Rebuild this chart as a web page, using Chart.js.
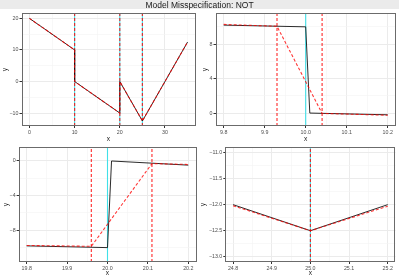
<!DOCTYPE html>
<html>
<head>
<meta charset="utf-8">
<script src="https://cdn.jsdelivr.net/npm/chart.js@4.4.1/dist/chart.umd.min.js"></script>
<style>
  html, body { margin: 0; padding: 0; background: #fff; }
  #wrap { position: relative; width: 399px; height: 279px; overflow: hidden; }
  canvas { position: absolute; }
  #title {
    position: absolute; left: 0; top: 0; width: 399px; height: 9px;
    background: #ebebeb; color: #1a1a1a; text-align: center;
    font: 8.5px "Liberation Sans", Arial, sans-serif; line-height: 10px;
  }
</style>
</head>
<body>
<div id="wrap">
  <canvas id="p1" width="200" height="142" style="left:0;top:0"></canvas>
  <canvas id="p2" width="199" height="142" style="left:200px;top:0"></canvas>
  <canvas id="p3" width="200" height="139" style="left:0;top:140px"></canvas>
  <canvas id="p4" width="199" height="139" style="left:200px;top:140px"></canvas>
  <div id="title">Model Misspecification: NOT</div>
</div>
<script>
// panel 1 — whole signal
const p1TrueX   = [0, 10, 10, 20, 20, 25, 35];
const p1TrueY   = [20, 10, 0, -10, 0, -12.5, 12.5];
const p1FitX    = [0, 10, 10, 20, 20, 25, 35];
const p1FitY    = [20, 10, 0, -10, 0, -12.5, 12.5];
const p1TrueCpt = [10, 20, 25];
const p1EstCpt  = [10, 20, 25];
const p1XLim    = [-1.75, 36.75];
const p1YLim    = [-14.1, 21.6];
const p1XTicks  = [0, 10, 20, 30];
const p1XLabels = ['0', '10', '20', '30'];
const p1XMinor  = [5, 15, 25, 35];
const p1YTicks  = [-10, 0, 10, 20];
const p1YLabels = ['\u221210', '0', '10', '20'];
const p1YMinor  = [-5, 5, 15];

// panel 2 — zoom around x = 10
const p2TrueX   = [9.8, 10.0, 10.01, 10.2];
const p2TrueY   = [10.2, 10.0, 0, -0.2];
const p2FitX    = [9.8, 9.93, 10.04, 10.2];
const p2FitY    = [10.28, 10.07, -0.04, -0.25];
const p2TrueCpt = [10.0];
const p2EstCpt  = [9.93, 10.04];
const p2XLim    = [9.78, 10.22];
const p2YLim    = [-1.5, 11.57];
const p2XTicks  = [9.8, 9.9, 10.0, 10.1, 10.2];
const p2XLabels = ['9.8', '9.9', '10.0', '10.1', '10.2'];
const p2XMinor  = [9.85, 9.95, 10.05, 10.15];
const p2YTicks  = [0, 4, 8];
const p2YLabels = ['0', '4', '8'];
const p2YMinor  = [2, 6, 10];

// panel 3 — zoom around x = 20
const p3TrueX   = [19.8, 20.0, 20.01, 20.2];
const p3TrueY   = [-9.8, -10, 0, -0.48];
const p3FitX    = [19.8, 19.96, 20.11, 20.2];
const p3FitY    = [-9.75, -9.85, -0.3, -0.4];
const p3TrueCpt = [20.0];
const p3EstCpt  = [19.96, 20.11];
const p3XLim    = [19.78, 20.22];
const p3YLim    = [-11.66, 1.58];
const p3XTicks  = [19.8, 19.9, 20.0, 20.1, 20.2];
const p3XLabels = ['19.8', '19.9', '20.0', '20.1', '20.2'];
const p3XMinor  = [19.85, 19.95, 20.05, 20.15];
const p3YTicks  = [-8, -4, 0];
const p3YLabels = ['\u22128', '\u22124', '0'];
const p3YMinor  = [-10, -6, -2];

// panel 4 — zoom around x = 25
const p4TrueX   = [24.8, 25.0, 25.2];
const p4TrueY   = [-12, -12.5, -12];
const p4FitX    = [24.8, 25.0, 25.2];
const p4FitY    = [-12.02, -12.5, -12.03];
const p4TrueCpt = [25.0];
const p4EstCpt  = [25.0];
const p4XLim    = [24.78, 25.22];
const p4YLim    = [-13.1, -10.9];
const p4XTicks  = [24.8, 24.9, 25.0, 25.1, 25.2];
const p4XLabels = ['24.8', '24.9', '25.0', '25.1', '25.2'];
const p4XMinor  = [24.85, 24.95, 25.05, 25.15];
const p4YTicks  = [-13, -12.5, -12, -11.5, -11];
const p4YLabels = ['\u221213.0', '\u221212.5', '\u221212.0', '\u221211.5', '\u221211.0'];
const p4YMinor  = [-12.75, -12.25, -11.75, -11.25];

const FONT = '"Liberation Sans", Arial, sans-serif';
const RED = 'rgba(255,0,0,0.78)';
const CYAN = 'rgb(64,224,232)';

// panel border like theme_bw
const frame = {
  id: 'frame',
  afterDraw(chart) {
    const { ctx, chartArea: a } = chart;
    ctx.save();
    ctx.strokeStyle = '#6b6b6b';
    ctx.lineWidth = 1;
    ctx.strokeRect(Math.round(a.left) + 0.5, Math.round(a.top) + 0.5,
                   Math.round(a.right - a.left) - 1, Math.round(a.bottom - a.top) - 1);
    ctx.restore();
  }
};

function pts(xs, ys) { return xs.map((x, i) => ({ x, y: ys[i] })); }

function axis(lim, major, labels, minor, title, fitFn, titlePad) {
  return {
    type: 'linear', min: lim[0], max: lim[1],
    afterBuildTicks: s => {
      s.ticks = major.map(v => ({ value: v }))
        .concat(minor.map(v => ({ value: v, minor: true })))
        .sort((a, b) => a.value - b.value);
    },
    afterFit: fitFn,
    border: { display: false },
    grid: {
      color: c => (c.tick && c.tick.minor) ? '#f4f4f4' : '#ebebeb',
      lineWidth: c => (c.tick && c.tick.minor) ? 0.6 : 1,
      tickColor: c => (c.tick && c.tick.minor) ? 'rgba(0,0,0,0)' : '#333',
      tickLength: 2
    },
    ticks: {
      autoSkip: false, maxRotation: 0, padding: 1, color: '#4d4d4d',
      font: { family: FONT, size: 5.3 },
      callback: v => { const i = major.indexOf(v); return i < 0 ? '' : labels[i]; }
    },
    title: {
      display: true, text: title, color: '#1a1a1a',
      font: { family: FONT, size: 6.6, lineHeight: 1 },
      padding: titlePad
    }
  };
}

function panel(id, d, box) {
  const datasets = [
    { data: pts(d.fitX, d.fitY), borderColor: RED, borderWidth: 1.1, borderDash: [3, 2], order: 0 },
    { data: pts(d.trueX, d.trueY), borderColor: 'rgba(20,20,20,0.9)', borderWidth: 1, order: 1 }
  ];
  d.estCpt.forEach(c => datasets.push({
    data: [{ x: c, y: d.yLim[0] }, { x: c, y: d.yLim[1] }],
    borderColor: RED, borderWidth: 1.2, borderDash: [3, 2], order: 2
  }));
  d.trueCpt.forEach(c => datasets.push({
    data: [{ x: c, y: d.yLim[0] }, { x: c, y: d.yLim[1] }],
    borderColor: CYAN, borderWidth: 1.1, order: 3
  }));
  datasets.forEach(ds => { ds.pointRadius = 0; ds.fill = false; ds.tension = 0; });

  new Chart(document.getElementById(id), {
    type: 'line',
    data: { datasets },
    options: {
      responsive: false, animation: false, devicePixelRatio: 1,
      layout: { padding: { top: box.top, right: box.right, left: 0, bottom: 0 } },
      plugins: { legend: { display: false }, tooltip: { enabled: false } },
      scales: {
        x: axis(d.xLim, d.xTicks, d.xLabels, d.xMinor, 'x', s => { s.height = box.xh; }, { top: 0, bottom: box.xPad }),
        y: axis(d.yLim, d.yTicks, d.yLabels, d.yMinor, 'y', s => { s.width = box.yw; }, { top: box.yPad, bottom: 0 })
      }
    },
    plugins: [frame]
  });
}

panel('p1', { trueX: p1TrueX, trueY: p1TrueY, fitX: p1FitX, fitY: p1FitY, trueCpt: p1TrueCpt, estCpt: p1EstCpt,
  xLim: p1XLim, yLim: p1YLim, xTicks: p1XTicks, xLabels: p1XLabels, xMinor: p1XMinor,
  yTicks: p1YTicks, yLabels: p1YLabels, yMinor: p1YMinor },
  { yw: 21.5, xh: 16, top: 13.3, right: 4.5, yPad: 1.5, xPad: 0 });

panel('p2', { trueX: p2TrueX, trueY: p2TrueY, fitX: p2FitX, fitY: p2FitY, trueCpt: p2TrueCpt, estCpt: p2EstCpt,
  xLim: p2XLim, yLim: p2YLim, xTicks: p2XTicks, xLabels: p2XLabels, xMinor: p2XMinor,
  yTicks: p2YTicks, yLabels: p2YLabels, yMinor: p2YMinor },
  { yw: 15.5, xh: 16, top: 13.3, right: 3.1, yPad: 1.4, xPad: 0 });

panel('p3', { trueX: p3TrueX, trueY: p3TrueY, fitX: p3FitX, fitY: p3FitY, trueCpt: p3TrueCpt, estCpt: p3EstCpt,
  xLim: p3XLim, yLim: p3YLim, xTicks: p3XTicks, xLabels: p3XLabels, xMinor: p3XMinor,
  yTicks: p3YTicks, yLabels: p3YLabels, yMinor: p3YMinor },
  { yw: 18.6, xh: 17, top: 7.3, right: 3.6, yPad: 2.7, xPad: 3 });

panel('p4', { trueX: p4TrueX, trueY: p4TrueY, fitX: p4FitX, fitY: p4FitY, trueCpt: p4TrueCpt, estCpt: p4EstCpt,
  xLim: p4XLim, yLim: p4YLim, xTicks: p4XTicks, xLabels: p4XLabels, xMinor: p4XMinor,
  yTicks: p4YTicks, yLabels: p4YLabels, yMinor: p4YMinor },
  { yw: 25.3, xh: 17, top: 7.3, right: 3.5, yPad: 0, xPad: 3 });
</script>
</body>
</html>
